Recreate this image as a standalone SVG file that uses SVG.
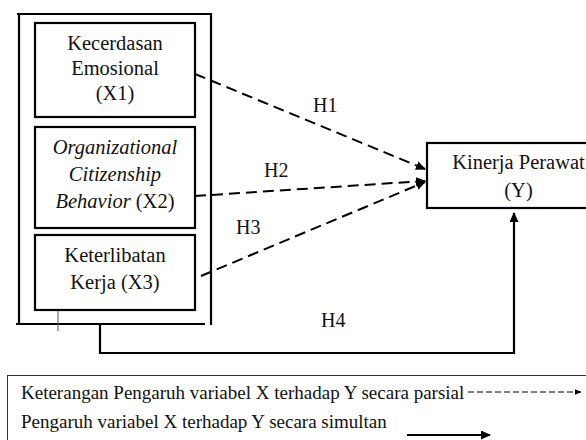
<svg xmlns="http://www.w3.org/2000/svg" width="586" height="440" viewBox="0 0 586 440">
  <style>
    .box { fill: #fff; stroke: #000; stroke-width: 2.2; }
    .frame { fill: none; stroke: #000; stroke-width: 2.2; }
    text { font-family: 'Liberation Serif', 'DejaVu Serif', serif; fill: #111; }
    .t { font-size: 20.5px; text-anchor: middle; }
    .it { font-style: italic; }
    .lbl { font-size: 19px; }
    .h { font-size: 20px; }
    .dash { fill: none; stroke: #000; stroke-width: 2; stroke-dasharray: 11 6; }
    .solid { fill: none; stroke: #000; stroke-width: 2.2; }
  </style>
  <defs>
    <marker id="ah" viewBox="0 0 10 9" refX="9" refY="4.5" markerWidth="10" markerHeight="9" markerUnits="userSpaceOnUse" orient="auto">
      <path d="M0,0 L10,4.5 L0,9 z" fill="#000"/>
    </marker>
    <marker id="ahs" viewBox="0 0 7 6" refX="6.5" refY="3" markerWidth="7" markerHeight="6" markerUnits="userSpaceOnUse" orient="auto">
      <path d="M0,0 L7,3 L0,6 z" fill="#000"/>
    </marker>
  </defs>

  <rect width="586" height="440" fill="#fff"/>

  <g id="frame">
    <path class="frame" d="M17,14 H211 V325 M19,14 V324 M16,324 H205"/>
    <line x1="58" y1="310" x2="58" y2="331" stroke="#555" stroke-width="1"/>
  </g>

  <g id="X1">
    <rect class="box" x="35" y="23" width="160" height="94"/>
    <text class="t" x="115" y="50" font-family="Liberation Serif, serif">Kecerdasan</text>
    <text class="t" x="115" y="75" font-family="Liberation Serif, serif">Emosional</text>
    <text class="t" x="115" y="100" font-family="Liberation Serif, serif">(X1)</text>
  </g>

  <g id="X2">
    <rect class="box" x="35" y="127" width="160" height="101"/>
    <text class="t it" x="115" y="154">Organizational</text>
    <text class="t it" x="115" y="181">Citizenship</text>
    <text class="t" x="115" y="208"><tspan class="it">Behavior</tspan> (X2)</text>
  </g>

  <g id="X3">
    <rect class="box" x="35" y="235" width="160" height="75"/>
    <text class="t" x="115" y="262">Keterlibatan</text>
    <text class="t" x="115" y="289">Kerja (X3)</text>
  </g>

  <g id="Y">
    <rect class="box" x="427" y="143" width="180" height="65"/>
    <text class="t" x="518.5" y="169">Kinerja Perawat</text>
    <text class="t" x="518.5" y="197">(Y)</text>
  </g>

  <g id="connectors">
    <line class="dash" x1="195" y1="74" x2="425" y2="169" marker-end="url(#ah)"/>
    <line class="dash" x1="195" y1="196" x2="425" y2="181" marker-end="url(#ah)"/>
    <line class="dash" x1="201" y1="276" x2="425" y2="182" marker-end="url(#ah)"/>
    <path class="solid" d="M100,324 V353 H514 V213" marker-end="url(#ah)"/>
    <text class="h" x="313" y="112">H1</text>
    <text class="h" x="264" y="177">H2</text>
    <text class="h" x="236" y="234">H3</text>
    <text class="h" x="321" y="327">H4</text>
  </g>

  <g id="legend">
    <rect x="7.5" y="375.5" width="600" height="100" fill="none" stroke="#333" stroke-width="1"/>
    <text class="lbl" x="21" y="399">Keterangan Pengaruh variabel X terhadap Y secara parsial</text>
    <line x1="468" y1="392" x2="581" y2="392" stroke="#000" stroke-width="1" stroke-dasharray="6 3" marker-end="url(#ahs)"/>
    <text class="lbl" x="21" y="428">Pengaruh variabel X terhadap Y secara simultan</text>
    <line x1="407" y1="435" x2="490" y2="435" stroke="#000" stroke-width="2.2" marker-end="url(#ah)"/>
  </g>
</svg>
